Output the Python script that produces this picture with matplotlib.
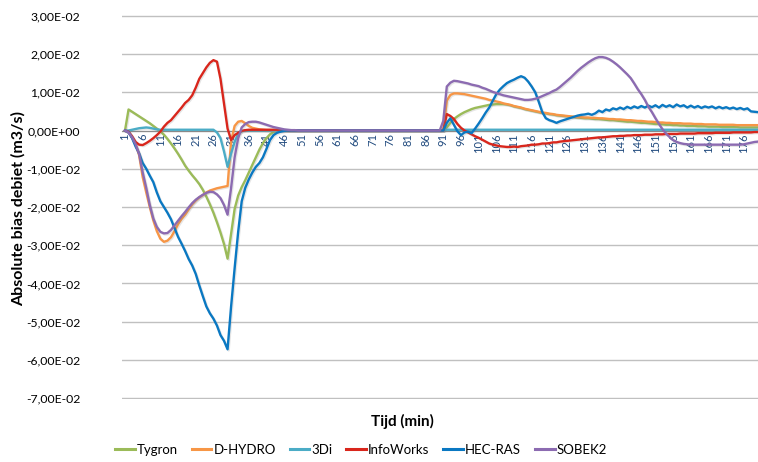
import numpy as np
import matplotlib
matplotlib.use("Agg")
import matplotlib.pyplot as plt
import matplotlib.patheffects as pe
from matplotlib.lines import Line2D
from matplotlib.ticker import FuncFormatter

# Bias per model per minute, in units of 1E-02 m3/s (minute 1..180)
tygron = ([0.0, 0.55, 0.49, 0.43, 0.37, 0.31, 0.25, 0.19, 0.12, 0.05,
           -0.02, -0.11, -0.22, -0.34, -0.47, -0.61, -0.76, -0.92, -1.05, -1.17,
           -1.28, -1.40, -1.55, -1.73, -1.93, -2.15, -2.40, -2.67, -2.97, -3.35,
           -2.70, -2.05, -1.70, -1.48, -1.30, -1.10, -0.90, -0.70, -0.50, -0.33,
           -0.20, -0.10, -0.04, -0.01]
          + [0.0] * 47
          + [0.08, 0.20, 0.30, 0.37, 0.43, 0.48, 0.52, 0.56, 0.59,
             0.61, 0.63, 0.65, 0.67, 0.68, 0.69, 0.69, 0.69, 0.68, 0.66,
             0.63, 0.61, 0.59, 0.56, 0.54, 0.52, 0.50, 0.48, 0.46, 0.45,
             0.43, 0.42, 0.40, 0.39, 0.38, 0.37, 0.36, 0.35, 0.34, 0.33,
             0.32, 0.32, 0.31, 0.30, 0.30, 0.29, 0.28, 0.27, 0.27, 0.26,
             0.25, 0.24, 0.23, 0.23, 0.22, 0.21, 0.20, 0.20, 0.19, 0.18,
             0.17, 0.17, 0.16, 0.15, 0.15, 0.14, 0.14, 0.13, 0.13, 0.12,
             0.12, 0.12, 0.11, 0.11, 0.11, 0.10, 0.10, 0.10, 0.10, 0.09,
             0.09, 0.09, 0.09, 0.09, 0.08, 0.08, 0.08, 0.08, 0.08, 0.08])

dhydro = ([0.0, -0.05, -0.18, -0.36, -0.65, -1.22, -1.62, -2.00, -2.35, -2.63,
           -2.83, -2.91, -2.88, -2.79, -2.63, -2.45, -2.31, -2.20, -2.06, -1.93,
           -1.83, -1.75, -1.69, -1.62, -1.57, -1.54, -1.51, -1.49, -1.47, -1.45,
           -0.28, 0.12, 0.23, 0.25, 0.19, 0.12, 0.07, 0.05, 0.03, 0.02, 0.01, 0.01, 0.0]
          + [0.0] * 48
          + [0.78, 0.93, 0.97, 0.97, 0.96, 0.95, 0.93, 0.91, 0.89,
             0.87, 0.85, 0.83, 0.80, 0.78, 0.76, 0.74, 0.71, 0.69, 0.67,
             0.64, 0.62, 0.60, 0.57, 0.55, 0.53, 0.51, 0.49, 0.47, 0.46,
             0.44, 0.43, 0.41, 0.40, 0.39, 0.38, 0.37, 0.36, 0.35, 0.35,
             0.34, 0.34, 0.33, 0.33, 0.32, 0.32, 0.31, 0.30, 0.30, 0.29,
             0.29, 0.28, 0.27, 0.27, 0.26, 0.25, 0.25, 0.24, 0.23, 0.23,
             0.22, 0.21, 0.21, 0.20, 0.20, 0.19, 0.19, 0.19, 0.18, 0.18,
             0.18, 0.17, 0.17, 0.17, 0.16, 0.16, 0.16, 0.16, 0.15, 0.15,
             0.15, 0.15, 0.15, 0.14, 0.14, 0.14, 0.14, 0.14, 0.14, 0.14])

threedi = ([0.0, 0.0, 0.02, 0.04, 0.06, 0.07, 0.08, 0.07, 0.05, 0.03]
           + [0.02] * 16
           + [-0.05, -0.20, -0.55, -0.95, -0.60, -0.30, -0.08, -0.02, 0.0]
           + [0.0] * 56
           + [0.02] * 89)

infoworks = ([0.0, -0.03, -0.15, -0.30, -0.37, -0.38, -0.33, -0.27, -0.20, -0.12,
              -0.03, 0.10, 0.20, 0.27, 0.38, 0.49, 0.60, 0.72, 0.80, 0.92,
              1.12, 1.35, 1.50, 1.65, 1.77, 1.84, 1.80, 1.35, 0.70, 0.05,
              -0.25, -0.12, -0.06, -0.01, 0.01]
             + [0.02] * 10 + [0.01]
             + [0.0] * 45
             + [0.43, 0.38, 0.30, 0.17, 0.07, 0.00, -0.05, -0.10, -0.15,
                -0.19, -0.24, -0.29, -0.34, -0.37, -0.39, -0.41, -0.42, -0.43, -0.43,
                -0.42, -0.43, -0.41, -0.40, -0.39, -0.37, -0.37, -0.36, -0.34, -0.34,
                -0.33, -0.31, -0.31, -0.29, -0.28, -0.27, -0.26, -0.25, -0.24, -0.23,
                -0.22, -0.21, -0.20, -0.19, -0.18, -0.18, -0.17, -0.16, -0.15, -0.15,
                -0.14, -0.14, -0.13, -0.13, -0.12, -0.12, -0.12, -0.11, -0.11, -0.11,
                -0.10, -0.10, -0.10, -0.09, -0.09, -0.09, -0.09, -0.08, -0.08, -0.08,
                -0.08, -0.08, -0.07, -0.07, -0.07, -0.07, -0.07, -0.06, -0.06, -0.06,
                -0.06, -0.06, -0.05, -0.05, -0.05, -0.05, -0.05, -0.05, -0.04, -0.04])

hecras = ([0.0, -0.05, -0.20, -0.42, -0.60, -0.85, -1.00, -1.18, -1.35, -1.62,
           -1.85, -2.00, -2.15, -2.32, -2.55, -2.78, -2.96, -3.15, -3.36, -3.53,
           -3.75, -4.05, -4.33, -4.60, -4.78, -4.92, -5.10, -5.35, -5.50, -5.72,
           -4.60, -3.60, -2.65, -1.85, -1.50, -1.28, -1.10, -0.95, -0.85, -0.70,
           -0.48, -0.25, -0.12, -0.06, -0.03, -0.01]
          + [0.0] * 45
          + [0.20, 0.32, 0.15, -0.02, -0.12, -0.05, -0.03, -0.07, 0.05,
             0.18, 0.32, 0.47, 0.60, 0.78, 0.95, 1.07, 1.16, 1.24, 1.29,
             1.33, 1.38, 1.42, 1.38, 1.28, 1.15, 1.00, 0.75, 0.48, 0.32,
             0.27, 0.24, 0.20, 0.24, 0.27, 0.30, 0.33, 0.36, 0.39, 0.41,
             0.42, 0.44, 0.41, 0.45, 0.52, 0.48, 0.55, 0.52, 0.58, 0.55,
             0.60, 0.56, 0.62, 0.58, 0.63, 0.59, 0.64, 0.60, 0.65, 0.61,
             0.66, 0.60, 0.67, 0.62, 0.66, 0.61, 0.68, 0.63, 0.66, 0.60,
             0.65, 0.60, 0.64, 0.59, 0.63, 0.60, 0.63, 0.58, 0.62, 0.58,
             0.61, 0.57, 0.60, 0.56, 0.59, 0.55, 0.58, 0.50, 0.49, 0.48])

sobek2 = ([0.0, -0.05, -0.18, -0.36, -0.62, -1.10, -1.50, -1.95, -2.30, -2.52,
           -2.65, -2.69, -2.68, -2.60, -2.48, -2.36, -2.24, -2.13, -2.01, -1.90,
           -1.81, -1.74, -1.68, -1.63, -1.60, -1.61, -1.67, -1.77, -1.95, -2.20,
           -1.50, -0.70, -0.20, 0.08, 0.17, 0.22, 0.23, 0.23, 0.21, 0.18,
           0.15, 0.12, 0.09, 0.07, 0.05, 0.03, 0.02, 0.01, 0.01, 0.0]
          + [0.0] * 40
          + [0.25, 1.15, 1.25, 1.30, 1.29, 1.27, 1.25, 1.23, 1.20, 1.18,
             1.16, 1.12, 1.09, 1.05, 1.01, 0.98, 0.95, 0.92, 0.90, 0.88,
             0.86, 0.84, 0.82, 0.80, 0.80, 0.81, 0.83, 0.86, 0.90, 0.94,
             0.98, 1.03, 1.07, 1.14, 1.22, 1.30, 1.38, 1.47, 1.56, 1.64,
             1.71, 1.78, 1.84, 1.89, 1.92, 1.92, 1.90, 1.86, 1.80, 1.73,
             1.65, 1.56, 1.47, 1.37, 1.23, 1.08, 0.95, 0.80, 0.62, 0.48,
             0.32, 0.17, 0.03, -0.08, -0.17, -0.25, -0.30, -0.33, -0.35, -0.36]
          + [-0.37] * 15
          + [-0.36, -0.34, -0.32, -0.30, -0.29])

series_names = ["Tygron", "D-HYDRO", "3Di", "InfoWorks", "HEC-RAS", "SOBEK2"]
series_values = [tygron, dhydro, threedi, infoworks, hecras, sobek2]
series_colors = ["#9BBB59", "#F79646", "#4BACC6", "#D9261C", "#0A78C2", "#8C6BB1"]

tick_minutes = list(range(1, 180, 5))

plt.rcParams["font.family"] = ["Lato", "DejaVu Sans"]

fig = plt.figure(figsize=(7.58, 4.62), dpi=100)
ax = fig.add_axes([122 / 758, 1 - 399 / 462, 636 / 758, 384 / 462])

shadow = [pe.SimpleLineShadow(offset=(0.8, -0.8), shadow_color="#808080", alpha=0.2),
          pe.Normal()]
for name, vals, col in zip(series_names, series_values, series_colors):
    minutes = np.arange(1, len(vals) + 1)
    ax.plot(minutes, np.array(vals) * 1e-2, color=col, lw=1.7, label=name,
            solid_joinstyle="round", path_effects=shadow, zorder=3)

ax.set_xlim(0.15, 180)
ax.set_ylim(-0.0702, 0.0302)
ax.set_yticks(np.arange(-0.07, 0.031, 0.01))
ax.yaxis.set_major_formatter(FuncFormatter(lambda v, p: f"{v:.2E}".replace(".", ",").replace("-0,00", "0,00")))
ax.set_xticks(tick_minutes)
ax.set_xticklabels([str(m) for m in tick_minutes])

for side in ["top", "right", "left"]:
    ax.spines[side].set_visible(False)
ax.spines["bottom"].set_position(("data", 0))
ax.spines["bottom"].set_color("#8C8C8C")
ax.spines["bottom"].set_linewidth(0.8)
ax.spines["bottom"].set_zorder(1)

ax.yaxis.grid(True, color="#C0C0C0", lw=1.0)
ax.set_axisbelow(True)
ax.tick_params(axis="y", length=0, pad=30, labelsize=8.8, labelcolor="#000000")
ax.tick_params(axis="x", length=0, pad=2, labelsize=8, labelrotation=90, labelcolor="#1F497D")

fig.text(18 / 758, 1 - 208 / 462, "Absolute bias debiet (m3/s)", rotation=90,
         ha="center", va="center", fontsize=11.5, fontweight="bold")
fig.text(402 / 758, 1 - 421 / 462, "Tijd (min)", ha="center", va="center",
         fontsize=11, fontweight="bold")

handles = [Line2D([], [], color=c, lw=2.2) for c in series_colors]
fig.legend(handles, series_names, ncol=6, loc="center", frameon=False,
           bbox_to_anchor=(361 / 758, 1 - 450 / 462), fontsize=9.5,
           handlelength=1.5, handletextpad=0.15, columnspacing=1.05)

fig.savefig("out.png", dpi=100)
